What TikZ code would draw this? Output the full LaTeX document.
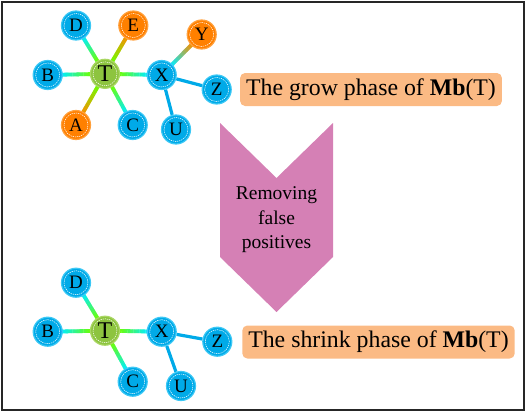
\documentclass[tikz,border=0pt]{standalone}
\usepackage{fontspec}
\setmainfont{Liberation Serif}
\usetikzlibrary{calc}
\definecolor{ncyan}{RGB}{0,170,232}
\definecolor{ncyanrim}{RGB}{60,200,245}
\definecolor{norange}{RGB}{255,128,0}
\definecolor{norangerim}{RGB}{255,160,60}
\definecolor{ngreen}{RGB}{141,196,63}
\definecolor{ngreenrim}{RGB}{170,215,100}
\definecolor{ecyan}{RGB}{0,238,255}
\definecolor{egreen}{RGB}{110,255,0}
\definecolor{eorange}{RGB}{245,145,0}
\definecolor{lblfill}{RGB}{251,186,132}
\definecolor{chev}{RGB}{213,128,181}
\pgfdeclarelayer{edges}
\pgfsetlayers{edges,main}
\tikzset{
  vtx/.style={circle, minimum size=29pt, inner sep=0pt, line width=1.2pt,
    font=\fontsize{19}{19}\selectfont,
    path picture={\draw[white, dash pattern=on 1.3pt off 0.9pt, line width=0.5pt]
      (path picture bounding box.center) circle (12pt);}},
  cv/.style={vtx, fill=ncyan, draw=ncyanrim},
  ov/.style={vtx, fill=norange, draw=norangerim},
  tv/.style={vtx, fill=ngreen, draw=ngreenrim, font=\fontsize{24}{24}\selectfont},
  pedge/.style={line width=3.2pt, ncyan},
  lbl/.style={rounded corners=5pt, fill=lblfill, inner xsep=6pt, minimum height=33pt,
    font=\fontsize{23.8}{26}\selectfont},
}
\newcommand{\gedge}[4]{%
  \draw[line width=3.8pt, color=#3] (#1) -- ($(#1)!14pt!(#2)$);
  \draw[line width=3.8pt, color=#4] (#2) -- ($(#2)!14pt!(#1)$);
  \foreach \i in {0,...,23}{%
    \pgfmathsetmacro{\pp}{100*(\i+0.5)/24}%
    \draw[line width=3.8pt, color=#4!\pp!#3]
      ($($(#1)!14pt!(#2)$)!{\i/24}!($(#2)!14pt!(#1)$)$) --
      ($($(#1)!14pt!(#2)$)!{(\i+1.3)/24}!($(#2)!14pt!(#1)$)$);
  }}
\begin{document}
\begin{tikzpicture}[x=1pt, y=-1pt]
\useasboundingbox (0,0) rectangle (526,412);
\draw[line width=1.5pt, black!85] (2,2) rectangle (524,410);
% top graph
\node[cv] (D1) at (76,25.5) {D};
\node[ov] (E1) at (133.3,25.5) {E};
\node[ov] (Y1) at (201.7,34.5) {Y};
\node[cv] (B1) at (47.7,75) {B};
\node[tv] (T1) at (105,73.8) {T};
\node[cv] (X1) at (161.7,75) {X};
\node[cv] (Z1) at (216.7,89.5) {Z};
\node[ov] (A1) at (76,125) {A};
\node[cv] (C1) at (132.7,125) {C};
\node[cv] (U1) at (176,129.5) {U};
\begin{pgfonlayer}{edges}
\gedge{T1}{D1}{egreen}{ecyan}
\gedge{T1}{B1}{egreen}{ecyan}
\gedge{T1}{C1}{egreen}{ecyan}
\gedge{T1}{X1}{egreen}{ecyan}
\gedge{T1}{E1}{egreen}{eorange}
\gedge{T1}{A1}{egreen}{eorange}
\gedge{X1}{Y1}{ecyan}{eorange}
\draw[pedge] (X1) -- (Z1);
\draw[pedge] (X1) -- (U1);
\end{pgfonlayer}
\node[lbl] (G) at (371,89.5) {The grow phase of \textbf{Mb}(T)};
% chevron
\fill[chev] (220,123) -- (276.5,178) -- (333,123) -- (333,257) -- (276.5,312) -- (220,257) -- cycle;
\node[align=center, font=\fontsize{19.5}{24.5}\selectfont] (R) at (276.5,220) {Removing\\false\\positives};
% bottom graph
\node[cv] (D2) at (76,282.7) {D};
\node[cv] (B2) at (47.7,331.7) {B};
\node[tv] (T2) at (105,330.7) {T};
\node[cv] (X2) at (161.7,331.7) {X};
\node[cv] (Z2) at (217.3,341.7) {Z};
\node[cv] (C2) at (132.7,381.7) {C};
\node[cv] (U2) at (181,386) {U};
\begin{pgfonlayer}{edges}
\gedge{T2}{D2}{egreen}{ecyan}
\gedge{T2}{B2}{egreen}{ecyan}
\gedge{T2}{C2}{egreen}{ecyan}
\gedge{T2}{X2}{egreen}{ecyan}
\draw[pedge] (X2) -- (Z2);
\draw[pedge] (X2) -- (U2);
\end{pgfonlayer}
\node[lbl] (S) at (378.5,342) {The shrink phase of \textbf{Mb}(T)};
\end{tikzpicture}
\end{document}
